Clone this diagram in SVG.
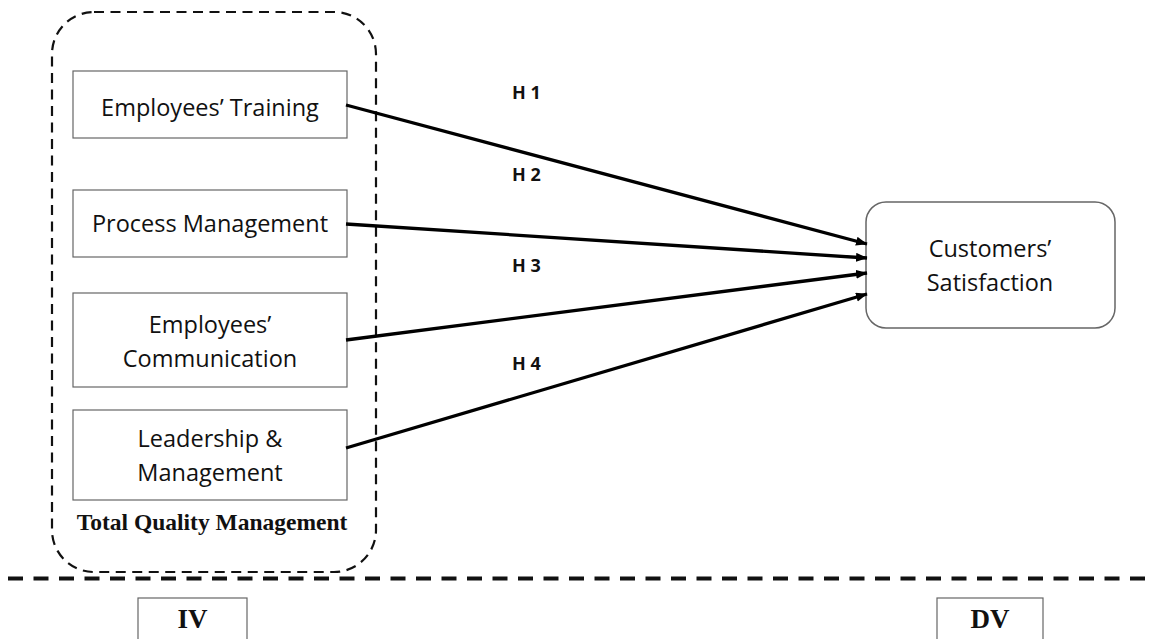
<svg xmlns="http://www.w3.org/2000/svg" width="1149" height="639" viewBox="0 0 1149 639">
<style>
.box{fill:#fff;stroke:#666;stroke-width:1.2}
.t{font-family:"Open Sans","Liberation Sans",sans-serif;font-size:23.5px;fill:#111;text-anchor:middle}
.h{font-family:"Open Sans","Liberation Sans",sans-serif;font-size:18px;font-weight:bold;fill:#111}
.serif{font-family:"Liberation Serif","Times New Roman",serif;font-weight:bold;fill:#111;text-anchor:middle}
.conn{stroke:#000;stroke-width:3.3;fill:none;marker-end:url(#arr)}
</style>
<defs>
<marker id="arr" markerUnits="userSpaceOnUse" markerWidth="12" markerHeight="10" refX="11" refY="4.5" orient="auto">
<path d="M0,0 L11.5,4.5 L0,9 z" fill="#000"/>
</marker>
</defs>
<rect width="1149" height="639" fill="#fff"/>
<g id="tqm-group">
<rect x="52" y="12" width="324" height="560" rx="42" ry="42" fill="none" stroke="#111" stroke-width="2.2" stroke-dasharray="10,6.5"/>
<text class="serif" x="212" y="530" font-size="23.5">Total Quality Management</text>
</g>
<g id="node-training">
<rect class="box" x="73" y="71" width="274" height="67"/>
<text class="t" x="210" y="116">Employees’ Training</text>
</g>
<g id="node-process">
<rect class="box" x="73" y="190" width="274" height="67"/>
<text class="t" x="210" y="232">Process Management</text>
</g>
<g id="node-communication">
<rect class="box" x="73" y="293" width="274" height="94"/>
<text class="t" x="210" y="333">Employees’</text>
<text class="t" x="210" y="367">Communication</text>
</g>
<g id="node-leadership">
<rect class="box" x="73" y="410" width="274" height="90"/>
<text class="t" x="210" y="447">Leadership &amp;</text>
<text class="t" x="210" y="481">Management</text>
</g>
<g id="node-satisfaction">
<rect x="866" y="202" width="249" height="126" rx="20" ry="20" fill="#fff" stroke="#666" stroke-width="1.5"/>
<text class="t" x="990" y="257">Customers’</text>
<text class="t" x="990" y="291">Satisfaction</text>
</g>
<g id="connectors">
<line class="conn" x1="346" y1="105" x2="867" y2="244"/>
<line class="conn" x1="346" y1="224" x2="867" y2="258"/>
<line class="conn" x1="346" y1="340" x2="867" y2="273"/>
<line class="conn" x1="346" y1="448" x2="867" y2="294"/>
<text class="h" x="512" y="99">H 1</text>
<text class="h" x="512" y="181">H 2</text>
<text class="h" x="512" y="272">H 3</text>
<text class="h" x="512" y="370">H 4</text>
</g>
<g id="divider">
<line x1="8" y1="578.5" x2="1149" y2="578.5" stroke="#111" stroke-width="4" stroke-dasharray="15,10.5"/>
</g>
<g id="node-iv">
<rect x="138" y="598" width="109" height="45" fill="#fff" stroke="#666" stroke-width="1.2"/>
<text class="serif" x="192.5" y="628" font-size="27">IV</text>
</g>
<g id="node-dv">
<rect x="937" y="598" width="106" height="45" fill="#fff" stroke="#666" stroke-width="1.2"/>
<text class="serif" x="990" y="628" font-size="27">DV</text>
</g>
</svg>
